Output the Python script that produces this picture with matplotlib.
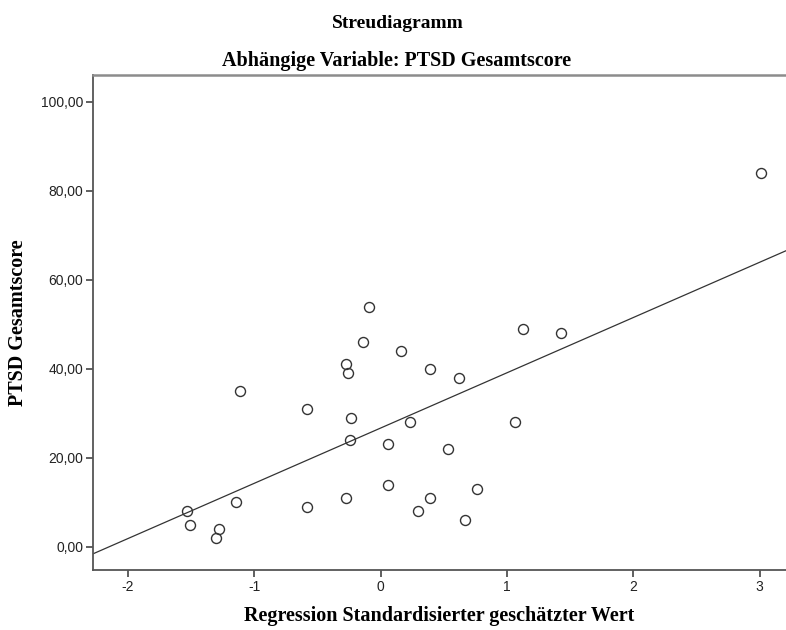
import numpy as np
import matplotlib
matplotlib.use("Agg")
import matplotlib.pyplot as plt
from matplotlib.ticker import FuncFormatter

# standardized predicted value vs. PTSD total score
pred_std = [3.01, -1.53, -1.51, -1.28, -1.30, -1.14, -1.11, -0.58, -0.58, -0.27,
            -0.26, -0.23, -0.24, -0.27, -0.14, -0.09, 0.16, 0.39, 0.23, 0.06,
            0.06, 0.30, 0.39, 0.53, 0.67, 0.76, 0.62, 1.06, 1.13, 1.43]
ptsd = [84, 8, 5, 4, 2, 10, 35, 31, 9, 41,
        39, 29, 24, 11, 46, 54, 44, 40, 28, 23,
        14, 8, 11, 22, 6, 13, 38, 28, 49, 48]

x_ticks = [-2, -1, 0, 1, 2, 3]
y_ticks = [0, 20, 40, 60, 80, 100]

title = "Streudiagramm"
subtitle = "Abhängige Variable: PTSD Gesamtscore"
x_label = "Regression Standardisierter geschätzter Wert"
y_label = "PTSD Gesamtscore"

plt.rcParams["axes.unicode_minus"] = False

x = np.array(pred_std)
y = np.array(ptsd, dtype=float)
slope, icpt = np.polyfit(x, y, 1)

serif = ["Liberation Serif", "DejaVu Serif"]
sans = ["Liberation Sans", "DejaVu Sans"]

fig = plt.figure(figsize=(7.86, 6.30), dpi=100)
ax = fig.add_axes([0.118, 0.0952, 0.882, 0.7857])

xmin, xmax = -2.277, 3.208
ax.set_xlim(xmin, xmax)
ax.set_ylim(-5.2, 106.0)

# fit line across the whole x range
xl = np.array([xmin, xmax])
ax.plot(xl, icpt + slope * xl, color="#333333", lw=0.9, zorder=2)
ax.plot(x, y, "o", mfc="none", mec="#333333", ms=7.2, mew=1.0, zorder=3)

ax.set_xticks(x_ticks)
ax.set_yticks(y_ticks)
ax.yaxis.set_major_formatter(FuncFormatter(lambda v, p: f"{v:.2f}".replace(".", ",")))
ax.tick_params(direction="out", length=5, width=1.2, color="#444444",
               labelsize=10, labelcolor="#222222", pad=2)
for lab in ax.get_xticklabels() + ax.get_yticklabels():
    lab.set_family(sans)

for s in ["left", "bottom"]:
    ax.spines[s].set_color("#555555")
    ax.spines[s].set_linewidth(1.3)
ax.spines["top"].set_color("#8c8c8c")
ax.spines["top"].set_linewidth(1.8)
ax.spines["right"].set_visible(False)

ax.set_xlabel(x_label, family=serif, fontweight="bold", fontsize=14.5, labelpad=9)
ax.set_ylabel(y_label, family=serif, fontweight="bold", fontsize=14.5, labelpad=9)

fig.text(0.506, 0.963, title, family=serif, fontweight="bold", fontsize=14,
         ha="center", va="center")
fig.text(0.504, 0.903, subtitle, family=serif, fontweight="bold", fontsize=14.5,
         ha="center", va="center")

fig.savefig("out.png", dpi=100)
